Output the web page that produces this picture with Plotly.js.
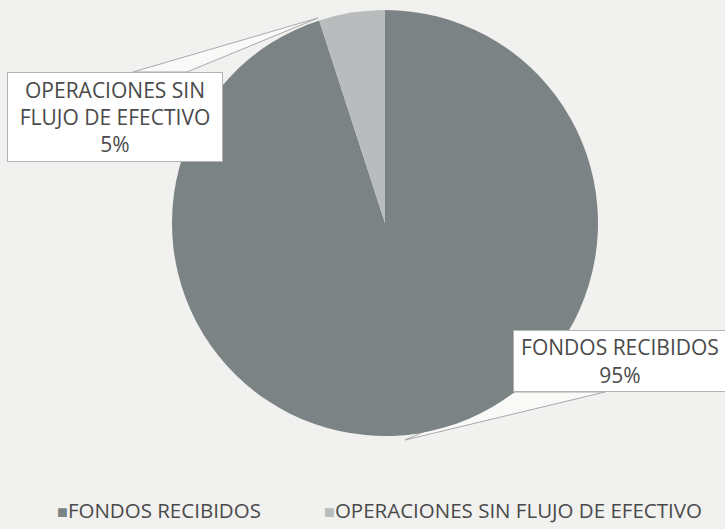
<!DOCTYPE html>
<html><head><meta charset="utf-8">
<script src="https://cdn.plot.ly/plotly-3.0.1.min.js"></script>
<style>html,body{margin:0;padding:0;background:#f1f1ef;}</style>
</head><body>
<div id="chart" style="width:725px;height:529px;"></div>
<script>
const labels = ["FONDOS RECIBIDOS", "OPERACIONES SIN FLUJO DE EFECTIVO"];
const values = [95, 5];
const sliceColors = ["#7c8384", "#b8bcbc"];
const percentText = ["95%", "5%"];
const calloutLines = [["FONDOS RECIBIDOS"], ["OPERACIONES SIN", "FLUJO DE EFECTIVO"]];

const W = 725, H = 529;
const px = (x) => x / W, py = (y) => 1 - y / H;

const data = [{
  type: "pie",
  labels: labels,
  values: values,
  sort: false,
  direction: "clockwise",
  rotation: 0,
  textinfo: "none",
  hoverinfo: "label+percent",
  showlegend: false,
  marker: {colors: sliceColors, line: {width: 0}},
  domain: {x: [px(172), px(598)], y: [py(436), py(10)]}
}];

function wedge(pts) {
  return "M " + pts.map(p => px(p[0]).toFixed(4) + "," + py(p[1]).toFixed(4)).join(" L ") + " Z";
}

const shapes = [
  {type: "path", xref: "paper", yref: "paper", layer: "below",
   path: wedge([[133, 72], [318, 18], [187, 72]]),
   fillcolor: "rgba(255,255,255,0.55)", line: {color: "#a9a9a9", width: 1}},
  {type: "path", xref: "paper", yref: "paper", layer: "below",
   path: wedge([[515, 392], [405, 440], [605, 392]]),
   fillcolor: "rgba(255,255,255,0.55)", line: {color: "#a9a9a9", width: 1}}
];

const calloutFont = {family: "Open Sans, sans-serif", size: 21, color: "#4a4a4a"};

const annotations = [
  {
    xref: "paper", yref: "paper", x: px(115), y: py(117),
    xanchor: "center", yanchor: "middle", showarrow: false,
    text: calloutLines[1].concat([percentText[1]]).join("<br>"),
    bgcolor: "#ffffff", bordercolor: "#b3b3b3", borderwidth: 1, borderpad: 2,
    width: 210, height: 84, font: calloutFont
  },
  {
    xref: "paper", yref: "paper", x: px(620), y: py(361),
    xanchor: "center", yanchor: "middle", showarrow: false,
    text: calloutLines[0].concat([percentText[0]]).join("<br>"),
    bgcolor: "#ffffff", bordercolor: "#b3b3b3", borderwidth: 1, borderpad: 2,
    width: 208, height: 56, font: calloutFont
  }
];

// legend drawn as text entries (marker square + label)
const legendX = [55, 322];
labels.forEach((lab, i) => {
  annotations.push({
    xref: "paper", yref: "paper", x: px(legendX[i]), y: py(510),
    xanchor: "left", yanchor: "middle", showarrow: false,
    text: '<span style="color:' + sliceColors[i] + ';font-size:18px">■</span>' + lab,
    font: {family: "Open Sans, sans-serif", size: 20.5, color: "#4a4a4a"}
  });
});

const layout = {
  width: W, height: H,
  margin: {l: 0, r: 0, t: 0, b: 0},
  paper_bgcolor: "#f1f1ef",
  plot_bgcolor: "#f1f1ef",
  font: {family: "Open Sans, sans-serif", color: "#444"},
  showlegend: false,
  shapes: shapes,
  annotations: annotations
};

Plotly.newPlot("chart", data, layout, {displayModeBar: false, staticPlot: true});
</script>
</body></html>
